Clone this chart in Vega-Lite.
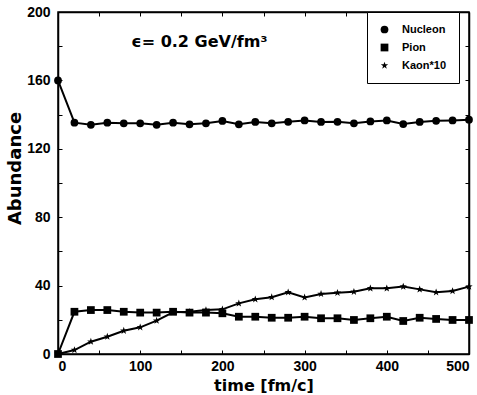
{
  "$schema": "https://vega.github.io/schema/vega-lite/v6.json",
  "width": 411,
  "height": 342,
  "autosize": {"type": "none"},
  "padding": {"left": 58, "top": 12, "right": 8, "bottom": 41},
  "background": "white",
  "config": {
    "view": {"stroke": "black", "strokeWidth": 1.5},
    "axis": {
      "domainColor": "black", "domainWidth": 1.5, "tickColor": "black", "tickWidth": 1,
      "tickSize": -4, "grid": false, "labelFont": "Liberation Sans", "labelFontWeight": "bold",
      "labelFontSize": 14, "labelColor": "black", "titleFont": "DejaVu Sans", "titleFontWeight": "bold",
      "titleColor": "black"
    },
    "legend": {
      "orient": "none", "legendX": 309, "legendY": 0, "strokeColor": "black", "padding": 12,
      "fillColor": "white", "labelFont": "Liberation Sans", "labelFontWeight": "bold", "labelFontSize": 11,
      "labelColor": "black", "rowPadding": 6, "labelOffset": 12, "symbolFillColor": "black",
      "symbolStrokeWidth": 0, "symbolSize": 60
    }
  },
  "data": {"values": [
    {"t":0,"v":160,"s":"Nucleon"},{"t":20,"v":135.3,"s":"Nucleon"},{"t":40,"v":134,"s":"Nucleon"},{"t":60,"v":135.3,"s":"Nucleon"},{"t":80,"v":134.9,"s":"Nucleon"},{"t":100,"v":134.9,"s":"Nucleon"},{"t":120,"v":134,"s":"Nucleon"},{"t":140,"v":135.3,"s":"Nucleon"},{"t":160,"v":134.3,"s":"Nucleon"},{"t":180,"v":134.9,"s":"Nucleon"},{"t":200,"v":136.3,"s":"Nucleon"},{"t":220,"v":134.3,"s":"Nucleon"},{"t":240,"v":135.7,"s":"Nucleon"},{"t":260,"v":134.9,"s":"Nucleon"},{"t":280,"v":135.8,"s":"Nucleon"},{"t":300,"v":136.6,"s":"Nucleon"},{"t":320,"v":135.7,"s":"Nucleon"},{"t":340,"v":135.8,"s":"Nucleon"},{"t":360,"v":134.9,"s":"Nucleon"},{"t":380,"v":136,"s":"Nucleon"},{"t":400,"v":136.6,"s":"Nucleon"},{"t":420,"v":134.5,"s":"Nucleon"},{"t":440,"v":135.7,"s":"Nucleon"},{"t":460,"v":136.4,"s":"Nucleon"},{"t":480,"v":136.6,"s":"Nucleon"},{"t":500,"v":137,"s":"Nucleon"},
    {"t":0,"v":0,"s":"Pion"},{"t":20,"v":24.7,"s":"Pion"},{"t":40,"v":25.7,"s":"Pion"},{"t":60,"v":25.7,"s":"Pion"},{"t":80,"v":24.7,"s":"Pion"},{"t":100,"v":24.2,"s":"Pion"},{"t":120,"v":24.2,"s":"Pion"},{"t":140,"v":24.7,"s":"Pion"},{"t":160,"v":24.2,"s":"Pion"},{"t":180,"v":24.2,"s":"Pion"},{"t":200,"v":23.8,"s":"Pion"},{"t":220,"v":21.8,"s":"Pion"},{"t":240,"v":21.8,"s":"Pion"},{"t":260,"v":21.2,"s":"Pion"},{"t":280,"v":21.2,"s":"Pion"},{"t":300,"v":21.8,"s":"Pion"},{"t":320,"v":20.9,"s":"Pion"},{"t":340,"v":20.9,"s":"Pion"},{"t":360,"v":19.9,"s":"Pion"},{"t":380,"v":20.9,"s":"Pion"},{"t":400,"v":21.8,"s":"Pion"},{"t":420,"v":19.3,"s":"Pion"},{"t":440,"v":21.2,"s":"Pion"},{"t":460,"v":20.5,"s":"Pion"},{"t":480,"v":19.9,"s":"Pion"},{"t":500,"v":19.9,"s":"Pion"},
    {"t":0,"v":0,"s":"Kaon*10"},{"t":20,"v":2.3,"s":"Kaon*10"},{"t":40,"v":7.2,"s":"Kaon*10"},{"t":60,"v":10.1,"s":"Kaon*10"},{"t":80,"v":13.6,"s":"Kaon*10"},{"t":100,"v":15.6,"s":"Kaon*10"},{"t":120,"v":19.5,"s":"Kaon*10"},{"t":140,"v":24.4,"s":"Kaon*10"},{"t":160,"v":24.7,"s":"Kaon*10"},{"t":180,"v":25.7,"s":"Kaon*10"},{"t":200,"v":26.1,"s":"Kaon*10"},{"t":220,"v":29.6,"s":"Kaon*10"},{"t":240,"v":32,"s":"Kaon*10"},{"t":260,"v":33.2,"s":"Kaon*10"},{"t":280,"v":36.1,"s":"Kaon*10"},{"t":300,"v":33.1,"s":"Kaon*10"},{"t":320,"v":35.1,"s":"Kaon*10"},{"t":340,"v":35.8,"s":"Kaon*10"},{"t":360,"v":36.4,"s":"Kaon*10"},{"t":380,"v":38.4,"s":"Kaon*10"},{"t":400,"v":38.4,"s":"Kaon*10"},{"t":420,"v":39.4,"s":"Kaon*10"},{"t":440,"v":37.8,"s":"Kaon*10"},{"t":460,"v":36.1,"s":"Kaon*10"},{"t":480,"v":36.8,"s":"Kaon*10"},{"t":500,"v":39.4,"s":"Kaon*10"}
  ]},
  "layer": [
    {
      "mark": {"type": "line", "color": "black", "strokeWidth": 2},
      "encoding": {
        "x": {"field": "t", "type": "quantitative", "scale": {"domain": [0, 500], "nice": false},
          "axis": {"orient": "bottom", "values": [0,50,100,150,200,250,300,350,400,450,500],
            "labelExpr": "datum.value % 100 == 0 ? datum.label : ''", "labelPadding": 9,
            "title": "time [fm/c]", "titleFontSize": 16, "titleBaseline": "alphabetic", "titleY": 36}},
        "y": {"field": "v", "type": "quantitative", "scale": {"domain": [0, 200], "nice": false},
          "axis": {"orient": "left", "values": [0,20,40,60,80,100,120,140,160,180,200],
            "labelExpr": "datum.value % 40 == 0 ? datum.label : ''", "labelPadding": 12,
            "title": "Abundance", "titleFontSize": 18, "titleAngle": 270, "titleX": -43, "titleY": 156,
            "titleAlign": "center", "titleBaseline": "middle"}},
        "detail": {"field": "s", "type": "nominal"}
      }
    },
    {
      "mark": {"type": "point", "filled": true, "color": "black", "opacity": 1, "size": 60},
      "encoding": {
        "x": {"field": "t", "type": "quantitative", "scale": {"domain": [0, 500], "nice": false}, "axis": null},
        "y": {"field": "v", "type": "quantitative", "scale": {"domain": [0, 200], "nice": false}, "axis": null},
        "shape": {"field": "s", "type": "nominal", "title": null,
          "scale": {"domain": ["Nucleon", "Pion", "Kaon*10"],
            "range": ["circle", "square", "M0,-1L0.235,-0.324L0.951,-0.309L0.380,0.124L0.588,0.809L0,0.4L-0.588,0.809L-0.380,0.124L-0.951,-0.309L-0.235,-0.324Z"]}}
      }
    },
    {
      "data": {"values": [{"t": 172, "v": 182.6, "label": "ϵ= 0.2 GeV/fm³"}]},
      "mark": {"type": "text", "font": "DejaVu Sans", "fontWeight": "bold", "fontSize": 16, "color": "black", "align": "center", "baseline": "middle"},
      "encoding": {
        "x": {"field": "t", "type": "quantitative", "scale": {"domain": [0, 500], "nice": false}, "axis": null},
        "y": {"field": "v", "type": "quantitative", "scale": {"domain": [0, 200], "nice": false}, "axis": null},
        "text": {"field": "label"}
      }
    },
    {
      "mark": {"type": "point", "opacity": 0},
      "encoding": {
        "x": {"field": "t", "type": "quantitative", "scale": {"domain": [0, 500], "nice": false},
          "axis": {"orient": "top", "values": [0,50,100,150,200,250,300,350,400,450,500], "labels": false, "title": null}},
        "y": {"field": "v", "type": "quantitative", "scale": {"domain": [0, 200], "nice": false},
          "axis": {"orient": "right", "values": [0,20,40,60,80,100,120,140,160,180,200], "labels": false, "title": null}}
      }
    }
  ],
  "resolve": {"scale": {"x": "independent", "y": "independent"}}
}
